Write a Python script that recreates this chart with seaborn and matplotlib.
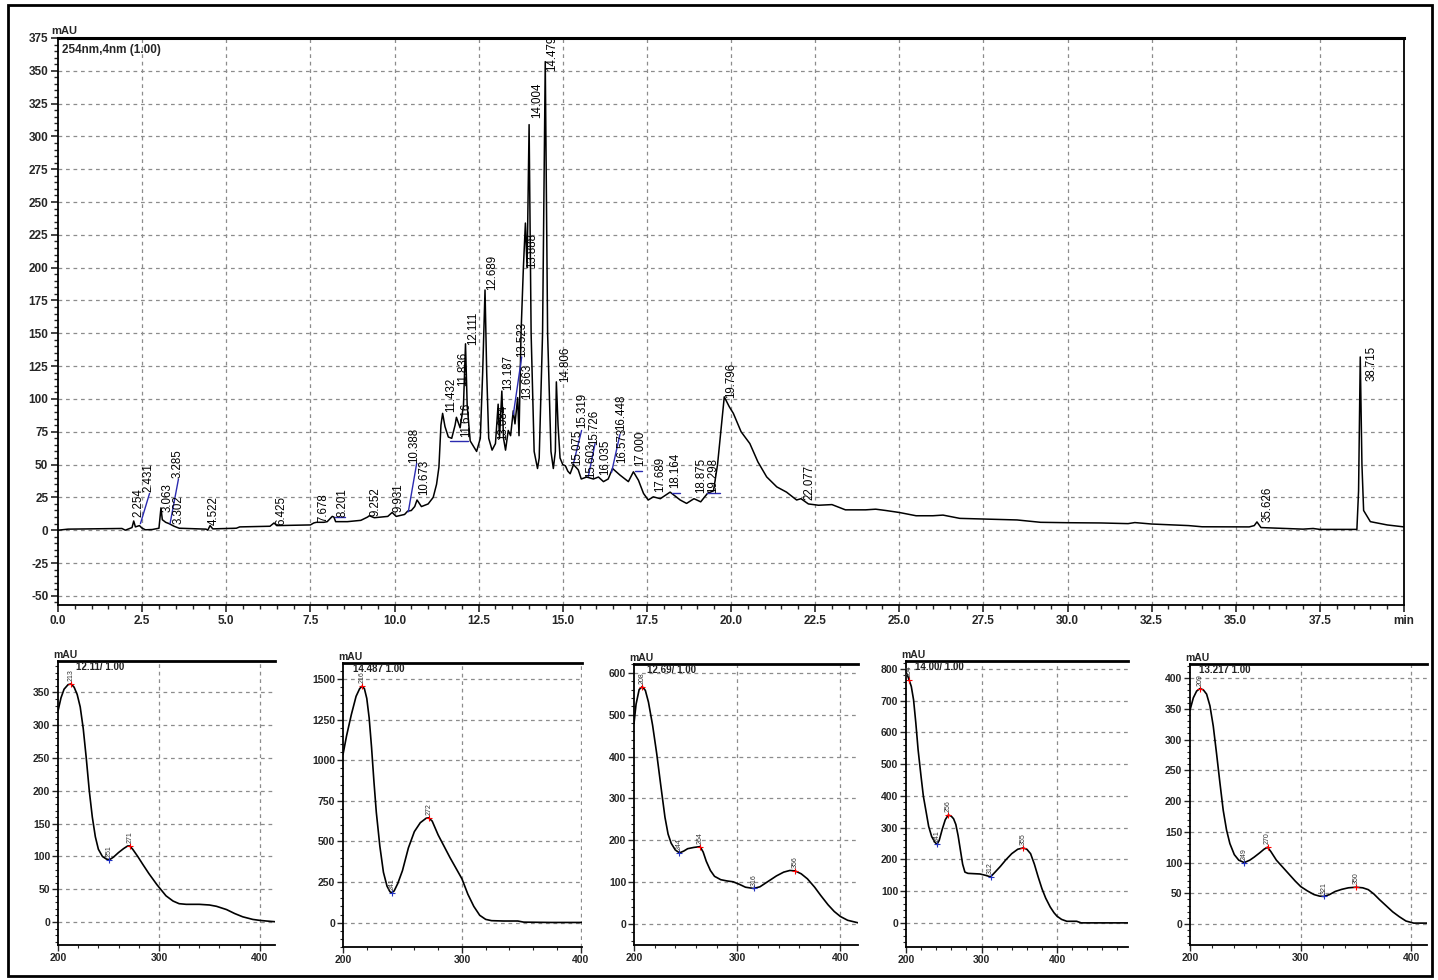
import numpy as np
import pandas as pd
import seaborn as sns
import matplotlib.pyplot as plt
from matplotlib.patches import Rectangle
from matplotlib.ticker import MultipleLocator, FixedLocator

# --- Chromatogram at 254 nm (time in min, signal in mAU) ---
chrom_time = [0.0, 0.3, 1.0, 1.9, 2.0, 2.1, 2.2, 2.25, 2.3, 2.42, 2.5, 2.6, 2.8, 3.0,
              3.06, 3.1, 3.2, 3.3, 3.45, 3.6, 4.4, 4.45, 4.52, 4.6, 5.3, 5.4, 6.3,
              6.42, 6.5, 7.5, 7.6, 7.68, 7.9, 8.0, 8.15, 8.2, 8.25, 8.6, 9.0, 9.2,
              9.25, 9.4, 9.8, 9.93, 10.05, 10.3, 10.39, 10.5, 10.6, 10.67, 10.8,
              11.0, 11.15, 11.25, 11.32, 11.38, 11.43, 11.5, 11.6, 11.7, 11.8,
              11.84, 11.95, 12.05, 12.11, 12.16, 12.25, 12.44, 12.55, 12.62, 12.69,
              12.74, 12.8, 12.9, 13.0, 13.08, 13.12, 13.19, 13.24, 13.3, 13.38,
              13.45, 13.53, 13.58, 13.66, 13.7, 13.76, 13.83, 13.89, 13.94, 14.0,
              14.06, 14.15, 14.25, 14.3, 14.4, 14.48, 14.55, 14.65, 14.72, 14.78,
              14.81, 14.86, 14.92, 15.0, 15.08, 15.15, 15.22, 15.32, 15.46, 15.55,
              15.71, 15.91, 16.06, 16.21, 16.35, 16.48, 16.7, 16.95, 17.1, 17.25,
              17.4, 17.54, 17.69, 17.9, 18.19, 18.49, 18.68, 18.9, 19.1, 19.3,
              19.48, 19.6, 19.7, 19.8, 19.95, 20.07, 20.3, 20.56, 20.8, 21.06,
              21.36, 21.65, 21.95, 22.08, 22.3, 22.6, 23.0, 23.4, 24.0, 24.3, 24.6,
              25.0, 25.5, 26.0, 26.3, 26.8, 27.5, 28.5, 29.2, 30.0, 31.0, 31.8,
              32.0, 32.5, 33.6, 34.0, 35.4, 35.55, 35.63, 35.75, 36.5, 37.0, 37.3,
              37.5, 38.6, 38.65, 38.7, 38.75, 38.8, 39.0, 39.5, 40.0]
chrom_mau = [0.0, 0.8, 1.0, 1.3, 0.0, 1.0, 2.0, 7.0, 2.5, 3.5, 1.5, 0.3, 0.5, 1.5,
             17.0, 8.0, 6.0, 5.0, 3.0, 1.5, 0.8, 0.0, 3.5, 1.0, 1.5, 2.5, 3.0,
             5.5, 3.5, 4.0, 5.5, 6.0, 6.0, 6.5, 10.5, 10.0, 6.5, 6.5, 7.5, 10.0,
             11.0, 9.5, 10.5, 13.5, 10.5, 12.0, 14.5, 15.0, 18.0, 23.0, 18.0,
             20.0, 25.0, 35.0, 48.0, 80.0, 89.0, 79.0, 71.0, 70.0, 80.0,
             86.0, 78.0, 95.0, 142.0, 95.0, 68.0, 60.0, 70.0, 120.0, 183.0,
             120.0, 70.0, 61.0, 66.0, 96.0, 70.0, 106.0, 70.0, 61.0, 76.0,
             72.0, 91.0, 81.0, 101.0, 72.0, 150.0, 200.0, 234.0, 200.0, 309.0,
             150.0, 60.0, 47.0, 55.0, 150.0, 357.0, 150.0, 60.0, 47.0, 60.0,
             113.0, 80.0, 55.0, 50.0, 49.0, 45.0, 43.0, 50.0, 46.0, 39.0,
             40.5, 39.0, 40.5, 37.0, 39.0, 47.0, 42.0, 37.0, 44.5, 38.0,
             28.0, 23.0, 25.4, 24.0, 29.0, 23.0, 20.4, 24.0, 21.6, 28.0,
             30.0, 50.0, 76.0, 101.6, 94.0, 89.0, 75.0, 66.0, 52.0, 40.6,
             33.0, 29.0, 23.0, 24.0, 20.0, 19.0, 19.5, 15.5, 15.5, 16.0, 15.0,
             13.5, 11.0, 11.0, 11.5, 9.0, 8.5, 7.8, 6.0, 5.7, 5.5, 5.0,
             5.8, 4.7, 3.5, 2.6, 2.5, 3.5, 6.3, 2.0, 1.3, 0.8, 1.3,
             0.6, 0.6, 30.0, 132.0, 50.0, 15.0, 6.5, 4.0, 2.5]

# --- Peak labels: retention time, label centre (min), label foot (mAU) ---
peak_rt = ["2.254", "2.431", "3.063", "3.285", "3.302", "4.522", "6.425", "7.678",
           "8.201", "9.252", "9.931", "10.388", "10.673", "11.432", "11.616",
           "11.836", "12.111", "12.689", "13.084", "13.187", "13.523", "13.663",
           "13.888", "14.004", "14.479", "14.806", "15.075", "15.319", "15.603",
           "15.726", "16.035", "16.448", "16.573", "17.000", "17.689", "18.164",
           "18.875", "19.298", "19.796", "22.077", "35.626", "38.715"]
label_time = [2.38, 2.68, 3.27, 3.55, 3.58, 4.64, 6.63, 7.90, 8.45, 9.44, 10.11,
              10.58, 10.88, 11.68, 12.12, 12.05, 12.33, 12.90, 13.23, 13.37, 13.78,
              13.93, 14.09, 14.23, 14.69, 15.07, 15.42, 15.57, 15.84, 15.93, 16.26,
              16.73, 16.76, 17.30, 17.89, 18.34, 19.10, 19.47, 20.00, 22.32, 35.95,
              39.05]
label_mau = [10, 29, 14, 40, 5, 4, 4, 6, 10, 11, 14, 51, 27, 90, 71, 110, 141,
             183, 69, 107, 132, 100, 200, 314, 350, 113, 50, 78, 40, 65, 42, 76,
             51, 49, 29, 32, 28, 28, 101, 23, 6, 114]

# --- Integration baselines (blue) ---
base_t0 = [2.45, 3.33, 8.23, 10.41, 11.65, 13.53, 15.32, 15.76, 16.45, 17.15, 18.24, 19.30]
base_v0 = [5, 5, 10, 14, 68, 88, 51, 41, 44, 45, 28, 28]
base_t1 = [2.72, 3.58, 8.53, 10.66, 12.19, 13.78, 15.56, 15.96, 16.70, 17.35, 18.49, 19.67]
base_v1 = [28, 39, 10, 51, 68, 132, 76, 66, 73, 45, 28, 28]

# --- UV spectra of selected peaks (nm, mAU) ---
spec1_nm = [200, 203, 206, 210, 213, 216, 219, 222, 225, 228, 231, 234, 237, 240,
            244, 248, 251, 255, 260, 265, 269, 271, 274, 279, 284, 290, 298, 307,
            314, 320, 327, 340, 350, 357, 367, 375, 383, 393, 400, 407, 415]
spec1_mau = [322, 342, 355, 362, 363, 358, 347, 328, 295, 250, 200, 160, 130, 111,
             100, 96, 95, 99, 106, 112, 116, 116, 111, 100, 88, 74, 57, 40,
             32, 28, 27, 27, 26, 24, 19, 13, 8, 4, 2.5, 1.5, 0.5]
spec2_nm = [200, 203, 207, 211, 214, 216, 218, 220, 222, 224, 226, 228, 231, 234,
            237, 239.5, 241, 243, 246, 250, 255, 260, 265, 270, 272, 275, 280, 285,
            290, 295, 300, 305, 310, 315, 320, 325, 335, 347, 352, 375, 401]
spec2_mau = [1035, 1150, 1280, 1393, 1440, 1455, 1440, 1380, 1260, 1080, 870, 680,
             470, 310, 225, 190, 184, 195, 240, 320, 460, 560, 615, 643, 645, 625,
             540, 470, 400, 335, 270, 175, 100, 45, 20, 12, 10, 10, 3, 1, 1]
spec3_nm = [200, 202, 205, 208, 211, 214, 218, 222, 226, 230, 233, 236, 240, 244,
            248, 252, 258, 264, 267, 270, 274, 278, 284, 290, 296, 302, 308, 316,
            322, 330, 338, 345, 351, 356, 362, 368, 375, 381, 388, 394, 400, 407, 417]
spec3_mau = [479, 525, 560, 567, 558, 530, 475, 407, 330, 255, 215, 193, 177, 170,
             174, 180, 183, 185, 172, 150, 128, 114, 106, 103, 101, 95, 88, 85,
             89, 102, 115, 124, 128, 127, 120, 108, 88, 68, 46, 30, 18, 9, 3]
spec4_nm = [200, 202, 204, 207, 210, 213, 216, 220, 223, 227, 230, 234, 238, 241,
            244, 248, 252, 256, 260, 263, 266, 269, 272, 275, 278, 282, 290, 298,
            305, 312, 318, 325, 332, 340, 348, 355, 360, 365, 370, 375, 380, 385,
            391, 396, 400, 406, 413, 426, 432, 495]
spec4_mau = [790, 780, 766, 745, 703, 630, 546, 460, 399, 345, 304, 272, 255, 247,
             260, 295, 325, 340, 336, 328, 310, 275, 230, 185, 160, 156, 155, 154,
             150, 145, 160, 178, 198, 218, 232, 236, 232, 218, 185, 145, 108, 78,
             50, 32, 21, 11, 5, 5, 0, 0]
spec5_nm = [200, 203, 206, 209, 212, 215, 218, 221, 224, 227, 230, 233, 236, 240,
            244, 249, 254, 258, 263, 267, 270, 273, 278, 284, 290, 295, 300, 306,
            312, 317, 321, 326, 331, 337, 343, 350, 356, 361, 366, 371, 377, 383,
            389, 395, 402, 414]
spec5_mau = [348, 368, 379, 383, 381, 374, 355, 322, 277, 230, 185, 153, 131, 113,
             104, 100, 104, 109, 116, 122, 125, 118, 104, 92, 80, 70, 61, 54,
             48, 45.5, 45, 48, 53, 56.5, 59, 60, 59, 56, 49, 40, 30, 20,
             12, 5, 1.6, 1.6]

spec_titles = ["12.11/ 1.00", "14.487 1.00", "12.69/ 1.00", "14.00/ 1.00", "13.217 1.00"]
spec_max_nm = [[213, 271], [216, 272], [208, 264, 356], [204, 256, 355], [209, 270, 350]]
spec_min_nm = [[251], [241], [244, 316], [241, 312], [249, 321]]

# --- Figure ---
sns.set_theme(style="ticks")
plt.rcParams["font.family"] = ["Liberation Sans", "DejaVu Sans"]
plt.rcParams["axes.unicode_minus"] = False
W, H = 1438, 980
fig = plt.figure(figsize=(W / 100, H / 100), dpi=100)


def add_axes_px(left, top, right, bottom):
    return fig.add_axes([left / W, 1 - bottom / H, (right - left) / W, (bottom - top) / H])


grid_kw = dict(color="#8c8c8c", linestyle=(0, (3, 3)), linewidth=0.9)

# main chromatogram
ax = add_axes_px(58, 38, 1404, 605)
df = pd.DataFrame({"time": chrom_time, "mAU": chrom_mau})
sns.lineplot(data=df, x="time", y="mAU", ax=ax, color="black", linewidth=1.1,
             estimator=None, sort=False)
for t0, v0, t1, v1 in zip(base_t0, base_v0, base_t1, base_v1):
    ax.plot([t0, t1], [v0, v1], color="#2b2bb0", linewidth=1.0)
for txt, lt, lv in zip(peak_rt, label_time, label_mau):
    ax.text(lt, lv, txt, rotation=90, ha="center", va="bottom", fontsize=8.3,
            color="black", clip_on=False)

ax.set_xlim(0, 40)
ax.set_ylim(-57, 375)
xt = np.arange(0, 40.1, 2.5)
ax.xaxis.set_major_locator(FixedLocator(xt))
ax.set_xticklabels([f"{v:.1f}" for v in xt[:-1]] + ["min"])
ax.xaxis.set_minor_locator(MultipleLocator(0.5))
ax.yaxis.set_major_locator(FixedLocator(np.arange(-50, 376, 25)))
ax.yaxis.set_minor_locator(MultipleLocator(5))
for v in np.arange(2.5, 39, 2.5):
    ax.axvline(v, zorder=0, **grid_kw)
for v in np.arange(-50, 351, 25):
    ax.axhline(v, zorder=0, **grid_kw)
ax.tick_params(which="major", direction="out", length=5, width=1.2, labelsize=8.5, pad=2)
ax.tick_params(which="minor", direction="out", length=3, width=1.0)
for lab in ax.get_xticklabels() + ax.get_yticklabels():
    lab.set_fontweight("bold")
for side in ["left", "bottom", "right"]:
    ax.spines[side].set_linewidth(1.3)
    ax.spines[side].set_color("black")
ax.spines["top"].set_linewidth(2.2)
ax.spines["top"].set_color("black")
ax.set_xlabel("")
ax.set_ylabel("")
ax.text(-0.005, 1.003, "mAU", transform=ax.transAxes, fontsize=8, fontweight="bold",
        ha="left", va="bottom")
ax.text(0.003, 0.99, "254nm,4nm (1.00)", transform=ax.transAxes, fontsize=8.5,
        fontweight="bold", ha="left", va="top")

# spectra panels
spectra = [(spec1_nm, spec1_mau), (spec2_nm, spec2_mau), (spec3_nm, spec3_mau),
           (spec4_nm, spec4_mau), (spec5_nm, spec5_mau)]
boxes = [(58, 661, 275, 945), (343, 663, 582, 947), (634, 664, 858, 945),
         (906, 661, 1128, 947), (1190, 664, 1427, 945)]
xlims = [(200, 415), (200, 401), (200, 417), (200, 494), (200, 414)]
ylims = [(-35, 398), (-150, 1598), (-50, 621), (-76, 825), (-34, 423)]
ysteps = [(50, 10, 350), (250, 50, 1500), (100, 20, 600), (100, 20, 800), (50, 10, 400)]
title_x = [0.085, 0.04, 0.06, 0.04, 0.04]

for i, (nm, mau) in enumerate(spectra):
    sax = add_axes_px(*boxes[i])
    sns.lineplot(x=nm, y=mau, ax=sax, color="black", linewidth=1.2, estimator=None)
    sax.set_xlim(*xlims[i])
    sax.set_ylim(*ylims[i])
    major, minor, top = ysteps[i]
    sax.yaxis.set_major_locator(FixedLocator(np.arange(0, top + 1, major)))
    sax.yaxis.set_minor_locator(MultipleLocator(minor))
    sax.xaxis.set_major_locator(MultipleLocator(100))
    sax.xaxis.set_minor_locator(MultipleLocator(20))
    for v in np.arange(300, xlims[i][1], 100):
        sax.axvline(v, zorder=0, **grid_kw)
    for v in np.arange(0, top + 1, major):
        sax.axhline(v, zorder=0, **grid_kw)
    sax.tick_params(which="major", direction="out", length=4, width=1.0, labelsize=7.5, pad=1.5)
    sax.tick_params(which="minor", direction="out", length=2.5, width=0.8)
    for lab in sax.get_xticklabels() + sax.get_yticklabels():
        lab.set_fontweight("bold")
    sax.spines["right"].set_visible(False)
    sax.spines["left"].set_linewidth(1.3)
    sax.spines["bottom"].set_linewidth(1.3)
    sax.spines["top"].set_linewidth(2.0)
    for side in ["left", "bottom", "top"]:
        sax.spines[side].set_color("black")
    sax.set_xlabel("")
    sax.set_ylabel("")
    sax.text(-0.02, 1.005, "mAU", transform=sax.transAxes, fontsize=7.5,
             fontweight="bold", ha="left", va="bottom")
    sax.text(title_x[i], 0.995, spec_titles[i], transform=sax.transAxes, fontsize=7,
             fontweight="bold", ha="left", va="top", color="#222222")
    span = ylims[i][1] - ylims[i][0]
    for w in spec_max_nm[i]:
        v = np.interp(w, nm, mau)
        sax.plot([w], [v], marker="+", color="red", ms=4, mew=0.8)
        sax.text(w, v + span * 0.01, str(w), rotation=90, fontsize=5, ha="center",
                 va="bottom", color="#333333")
    for w in spec_min_nm[i]:
        v = np.interp(w, nm, mau)
        sax.plot([w], [v], marker="+", color="#2030c0", ms=4, mew=0.8)
        sax.text(w, v + span * 0.01, str(w), rotation=90, fontsize=5, ha="center",
                 va="bottom", color="#333333")

# outer frame
fig.add_artist(Rectangle((8 / W, 1 - 976 / H), (1432 - 8) / W, (976 - 5) / H,
                         transform=fig.transFigure, fill=False, lw=2.0, ec="black"))

fig.savefig("out.png", dpi=100, facecolor="white")
